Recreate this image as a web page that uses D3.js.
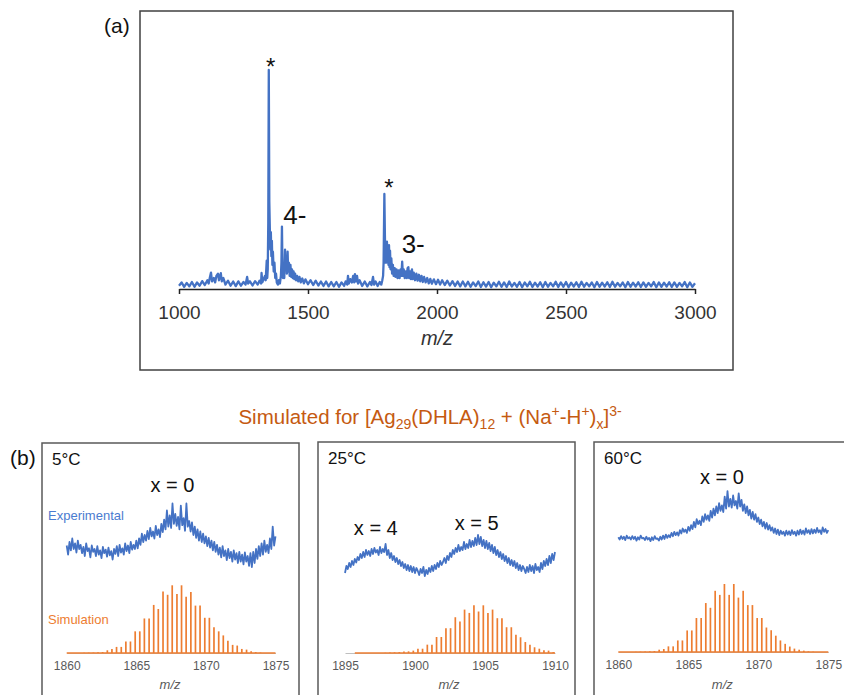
<!DOCTYPE html>
<html>
<head>
<meta charset="utf-8">
<script src="https://cdn.jsdelivr.net/npm/d3@7"></script>
<style>
  html, body { margin: 0; padding: 0; background: #fff; }
  svg { display: block; font-family: "Liberation Sans", Arial, Helvetica, sans-serif; }
</style>
</head>
<body>
<svg id="fig" width="844" height="695"></svg>
<script>
// ---------------- (a) full ESI spectrum, m/z 1000-3000 ----------------
const spectrumA = [
  [1000,1.5],[1010,3.0],[1020,1.0],[1030,2.8],[1040,1.2],[1050,3.2],[1060,1.0],[1070,3.0],[1080,1.5],[1090,3.6],
  [1100,1.8],[1110,4.0],[1115,2.5],[1120,5.5],[1124,7.5],[1128,3.5],[1135,5.0],[1140,3.0],[1145,6.0],[1151,7.0],
  [1155,4.0],[1162,7.2],[1166,3.5],[1172,5.0],[1180,2.0],[1190,3.8],[1200,1.5],[1210,3.4],[1220,1.3],[1230,3.5],
  [1240,1.5],[1250,3.2],[1258,2.0],[1264,5.5],[1268,2.5],[1275,3.5],[1285,1.6],[1295,3.6],[1305,2.0],[1312,3.8],
  [1318,2.5],[1320,7.3],[1323,3.0],[1328,4.5],[1333,6.0],[1336,4.0],[1340,13],[1342,5],[1344,9],[1346,30],
  [1348,100],[1350,40],[1352,28],[1354,18],[1356,26],[1358,15],[1360,22],[1362,11],[1364,17],[1367,8],
  [1370,12],[1373,5],[1376,7],[1379,3],[1383,2],[1387,4],[1391,2.5],[1395,6],[1397,12],[1399,28.5],
  [1401,10],[1403,5],[1406,9],[1408,5],[1411,18],[1413,9],[1416,14],[1418,7],[1421,17],[1423,8],
  [1426,12],[1429,6],[1432,11],[1435,5.5],[1438,9],[1441,5],[1444,8],[1447,4.5],[1450,7],[1454,4],
  [1458,6],[1462,3.5],[1467,5.5],[1472,3],[1478,4.8],[1484,2.6],[1490,4.4],[1500,2.2],[1510,4.0],[1520,1.8],
  [1530,3.8],[1540,1.6],[1550,3.4],[1560,1.4],[1570,3.4],[1580,1.2],[1590,3.2],[1600,1.2],[1610,3.2],[1620,1.0],
  [1630,3.0],[1640,1.4],[1646,3.5],[1652,2.0],[1655,6.0],[1658,2.5],[1664,4.5],[1670,3.0],[1675,6.0],[1679,3.0],
  [1682,6.8],[1686,3.5],[1690,6.0],[1694,2.5],[1700,4.0],[1710,1.4],[1720,3.4],[1730,1.2],[1740,3.2],[1746,1.8],
  [1752,5.5],[1756,2.0],[1762,3.4],[1770,1.4],[1778,3.2],[1784,2.0],[1788,4.0],[1791,6],[1793,12],[1796,43.4],
  [1798,25],[1800,12],[1802,20],[1804,12],[1806,21.6],[1808,13],[1810,19],[1812,11],[1814,20],[1816,10],
  [1818,17.5],[1820,9],[1823,14],[1826,7],[1829,11],[1832,6],[1836,9.5],[1839,5.5],[1843,9],[1847,5],
  [1851,8.5],[1855,5],[1859,9],[1862,6],[1865,12.5],[1868,6],[1871,9],[1875,5],[1879,8],[1883,5],
  [1886,9.5],[1889,10],[1892,5],[1896,8],[1899,4.5],[1903,9],[1906,4.5],[1910,7.5],[1915,4],[1920,7],
  [1925,3.8],[1930,6.5],[1935,3.5],[1940,6],[1945,3.2],[1950,5.5],[1956,3],[1962,5],[1968,2.6],[1974,4.6],
  [1980,2.4],[1988,4.4],[1996,2.2],[2004,4.2],[2012,2.0],[2020,4.0],[2030,1.8],[2040,3.8],[2050,1.6],[2060,3.6],
  [2070,1.4],[2080,3.4],[2090,1.2],[2100,3.4],[2110,1.2],[2120,3.3],[2130,1.0],[2140,3.0],[2150,1.3],[2160,3.4],
  [2170,0.9],[2180,3.1],[2190,1.1],[2200,3.2],[2210,0.8],[2220,2.9],[2230,1.2],[2240,3.3],[2250,1.0],[2260,3.0],
  [2270,0.9],[2280,3.4],[2290,1.1],[2300,2.8],[2310,1.0],[2320,3.2],[2330,0.8],[2340,3.0],[2350,1.2],[2360,3.3],
  [2370,0.9],[2380,2.9],[2390,1.1],[2400,3.1],[2410,0.8],[2420,3.2],[2430,1.0],[2440,2.8],[2450,1.2],[2460,3.3],
  [2470,0.9],[2480,3.0],[2490,1.0],[2500,3.2],[2510,0.8],[2520,2.9],[2530,1.1],[2540,3.1],[2550,0.9],[2560,3.3],
  [2570,1.0],[2580,2.8],[2590,1.2],[2600,3.0],[2610,0.8],[2620,3.2],[2630,1.0],[2640,2.9],[2650,1.1],[2660,3.1],
  [2670,0.9],[2680,3.3],[2690,1.0],[2700,2.8],[2710,1.2],[2720,3.0],[2730,0.8],[2740,3.2],[2750,1.0],[2760,2.9],
  [2770,1.1],[2780,3.1],[2790,0.9],[2800,3.0],[2810,1.0],[2820,2.8],[2830,1.2],[2840,3.2],[2850,0.8],[2860,3.0],
  [2870,1.0],[2880,2.9],[2890,1.1],[2900,3.1],[2910,0.9],[2920,3.0],[2930,1.0],[2940,2.8],[2950,1.2],[2960,3.2],
  [2970,0.8],[2980,3.0],[2990,1.0],[3000,2.6]
];
const ticksA = [1000, 1500, 2000, 2500, 3000];
// peak annotations: text, anchor m/z, anchor intensity, anchor side
const notesA = [
  { text: "*",  mz: 1355, at: 97.8, anchor: "middle", size: 24 },
  { text: "*",  mz: 1814, at: 42.3, anchor: "middle", size: 24 },
  { text: "4-", mz: 1404, at: 29.7, anchor: "start",  size: 26 },
  { text: "3-", mz: 1863, at: 16.3, anchor: "start",  size: 26 }
];

// ---------------- (b) zoomed isotope envelopes ----------------
// experimental traces sampled every 0.1 m/z from the panel's first m/z
const exp5C = [
  35,22,40,28,45,30,38,25,42,30, 36,24,33,20,38,27,31,18,35,26,
  30,20,34,22,28,17,33,24,29,19, 32,21,27,15,30,23,34,20,36,25,
  31,22,38,27,35,24,40,29,36,30, 42,31,45,36,52,40,50,42,56,44,
  60,48,55,45,63,50,58,47,66,54, 72,58,85,62,78,60,95,66,80,63,
  76,58,92,64,74,56,95,62,70,55, 68,50,62,46,58,42,55,40,52,38,
  48,34,46,32,42,28,40,26,36,22, 32,18,34,20,28,14,30,17,26,12,
  28,15,24,10,26,12,22,8,25,12,  20,6,24,4,26,10,30,16,34,20,
  38,22,42,26,36,24,45,30,62,35,48
];
const exp25C = [
  14,28,22,34,26,38,30,42,35,46, 40,52,44,56,46,60,50,58,48,62,
  52,64,55,60,50,66,54,62,56,72, 50,60,44,54,40,48,36,44,32,40,
  28,36,24,32,20,30,18,28,16,26, 14,24,18,10,22,14,26,8,20,12,
  24,16,28,18,30,22,34,26,38,30, 36,44,34,48,40,54,46,60,52,64,
  56,70,58,66,60,76,62,72,64,80, 66,78,68,84,70,90,72,86,68,80,
  64,78,62,74,58,70,54,66,50,60, 46,56,42,52,38,48,34,44,30,40,
  28,38,24,34,20,30,18,28,22,14, 26,16,30,18,28,14,32,20,26,16,
  34,22,38,28,42,30,48,34,52,40,56
];
const exp60C = [
  14,10,16,11,15,9,17,12,14,10,  16,11,15,8,14,10,17,12,13,9,
  15,10,13,7,14,9,16,11,12,8,    15,10,17,11,19,13,18,14,22,16,
  24,18,23,17,27,21,30,24,28,22, 33,26,36,29,42,32,47,38,44,36,
  52,42,56,46,54,44,62,50,66,54, 70,58,76,62,72,60,88,66,98,70,
  84,68,90,72,80,66,94,70,82,62, 74,58,70,54,64,48,60,46,56,42,
  50,38,46,34,42,30,40,28,36,26, 32,22,30,20,28,18,26,20,24,17,
  26,19,25,18,27,20,24,17,26,19, 28,20,26,19,30,22,27,20,29,21,
  28,22,31,23,27,20,32,24,29,22,27
];
// simulated isotope sticks (relative abundance, %)
const simX0Mz = [
  1861.25,1861.58,1861.92,1862.25,1862.58,1862.92,1863.25,1863.58,1863.92,1864.25,
  1864.58,1864.92,1865.25,1865.58,1865.92,1866.25,1866.58,1866.92,1867.25,1867.58,
  1867.92,1868.25,1868.58,1868.92,1869.25,1869.58,1869.92,1870.25,1870.58,1870.92,
  1871.25,1871.58,1871.92,1872.25,1872.58,1872.92,1873.25,1873.58,1873.92
];
const sim5C = [
  0.3,0.5,0.7,1,1.5,4,6,9,9,17, 17,32,32,51,51,71,65,91,86,100,
  87,100,83,90,70,70,52,52,38,32, 26,18,12,11,6,5,2.5,1.5,0.7
];
const sim60C = [
  0.3,0.5,0.7,1,1.5,3.4,4.4,8.3,8.3,17, 17,31.7,31.7,50,50,72,65,90,84,100,
  84,100,80,90,69,69,50,50,36,32, 24,17,12,8,5,3.4,2,1,0.5
];
const simX5Mz = [
  1897.88,1898.21,1898.54,1898.88,1899.21,1899.54,1899.88,1900.21,1900.54,1900.88,
  1901.21,1901.54,1901.88,1902.21,1902.54,1902.88,1903.21,1903.54,1903.88,1904.21,
  1904.54,1904.88,1905.21,1905.54,1905.88,1906.21,1906.54,1906.88,1907.21,1907.54,
  1907.88,1908.21,1908.54,1908.88,1909.21,1909.54,1909.88
];
const sim25C = [
  0.5,1,1.5,2,3,3.5,5,9,9,17.5, 17.5,33.5,33.5,52,52,75,66,91,84,100,
  87,100,84,91,73,73,54,54,38,33, 23,17.5,12,9,5.6,5,2
];
const ticks5C  = [1860, 1865, 1870, 1875];
const ticks25C = [1895, 1900, 1905, 1910];
const ticks60C = [1860, 1865, 1870, 1875];

// ---------------- styles ----------------
const BLUE = "#4472C4", ORANGE = "#ED7D31", TITLE_ORANGE = "#C55A11";

const svg = d3.select("#fig");

// ===== panel (a) =====
svg.append("rect").attr("x", 140).attr("y", 11).attr("width", 593).attr("height", 359)
  .attr("fill", "none").attr("stroke", "#404040").attr("stroke-width", 1.5);
svg.append("text").attr("x", 104).attr("y", 33).attr("font-size", 21).attr("fill", "#111").text("(a)");

const xA = d3.scaleLinear().domain([1000, 3000]).range([179, 695]);
const yA = d3.scaleLinear().domain([0, 100]).range([289, 70]);

const axA = svg.append("g").attr("transform", "translate(0,289)")
  .call(d3.axisBottom(xA).tickValues(ticksA).tickSize(5).tickPadding(12).tickSizeOuter(0).tickFormat(d3.format("d")));
axA.select(".domain").attr("stroke", "#222").attr("stroke-width", 1.5);
axA.selectAll(".tick line").attr("stroke", "#222").attr("stroke-width", 1.5);
axA.selectAll(".tick text").attr("font-size", 19).attr("fill", "#333")
  .attr("font-family", "'Liberation Sans', Arial, sans-serif");
svg.append("text").attr("x", 437).attr("y", 345).attr("text-anchor", "middle")
  .attr("font-size", 20).attr("font-style", "italic").attr("fill", "#333").text("m/z");

svg.append("path").datum(spectrumA)
  .attr("fill", "none").attr("stroke", BLUE).attr("stroke-width", 2.3).attr("stroke-linejoin", "round")
  .attr("d", d3.line().x(d => xA(d[0])).y(d => yA(d[1])));

svg.selectAll("text.noteA").data(notesA).join("text").attr("class", "noteA")
  .attr("x", d => xA(d.mz)).attr("y", d => yA(d.at))
  .attr("text-anchor", d => d.anchor).attr("font-size", d => d.size).attr("fill", "#111")
  .text(d => d.text);

// ===== title of (b) =====
const title = svg.append("text").attr("x", 430).attr("y", 424).attr("text-anchor", "middle")
  .attr("font-size", 20.5).attr("fill", TITLE_ORANGE);
[
  ["Simulated for [Ag", 0], ["29", 1], ["(DHLA)", 0], ["12", 1], [" + (Na", 0], ["+", -1],
  ["-H", 0], ["+", -1], [")", 0], ["x", 1], ["]", 0], ["3-", -1]
].reduce((prev, [s, k]) => {
  const shift = k === 1 ? 5 : k === -1 ? -8 : 0;
  title.append("tspan").attr("dy", shift - prev).attr("font-size", k ? 14 : 20.5).text(s);
  return shift;
}, 0);

svg.append("text").attr("x", 10).attr("y", 465).attr("font-size", 21).attr("fill", "#111").text("(b)");

// ===== panels of (b) =====
const panels = [
  { frameX: 42,  frameY: 443, xDom: [1860, 1875], xRange: [66.7, 275.5], ticks: ticks5C,
    exp: exp5C, expStart: 1860, expY: [570, 500], simMz: simX0Mz, sim: sim5C, simBase: 653, simTop: 585.3,
    simLine: [1860, 1875], temp: "5\u00B0C",
    labels: [{ t: "x = 0", mz: 1867.6, y: 492 }], showLegend: true },
  { frameX: 318, frameY: 442, xDom: [1895, 1910], xRange: [345, 555], ticks: ticks25C,
    exp: exp25C, expStart: 1895, expY: [580, 530], simMz: simX5Mz, sim: sim25C, simBase: 653, simTop: 605.3,
    simLine: [1895.7, 1910], temp: "25\u00B0C",
    labels: [{ t: "x = 4", mz: 1897.2, y: 535 }, { t: "x = 5", mz: 1904.4, y: 530 }], showLegend: false },
  { frameX: 594, frameY: 442, xDom: [1860, 1875], xRange: [618.3, 828.3], ticks: ticks60C,
    exp: exp60C, expStart: 1860, expY: [545, 490], simMz: simX0Mz, sim: sim60C, simBase: 652, simTop: 584,
    simLine: [1860, 1875], temp: "60\u00B0C",
    labels: [{ t: "x = 0", mz: 1867.4, y: 484 }], showLegend: false }
];

panels.forEach(p => {
  const g = svg.append("g");
  g.append("rect").attr("x", p.frameX).attr("y", p.frameY).attr("width", 257).attr("height", 300)
    .attr("fill", "none").attr("stroke", "#595959").attr("stroke-width", 1.5);
  g.append("text").attr("x", p.frameX + 10).attr("y", p.frameY + 22).attr("font-size", 17)
    .attr("fill", "#111").text(p.temp);

  const x = d3.scaleLinear().domain(p.xDom).range(p.xRange);
  const yE = d3.scaleLinear().domain([0, 100]).range(p.expY);
  const yS = d3.scaleLinear().domain([0, 100]).range([p.simBase, p.simTop]);

  // m/z axis
  const ax = g.append("g").attr("transform", `translate(0,${p.simBase})`)
    .call(d3.axisBottom(x).tickValues(p.ticks).tickSize(0).tickPadding(8).tickFormat(d3.format("d")));
  ax.select(".domain").attr("stroke", "#bfbfbf").attr("stroke-width", 1);
  ax.selectAll(".tick text").attr("font-size", 12).attr("fill", "#595959")
    .attr("font-family", "'Liberation Sans', Arial, sans-serif");
  g.append("text").attr("x", (p.xRange[0] + p.xRange[1]) / 2 - 1).attr("y", 689).attr("text-anchor", "middle")
    .attr("font-size", 13).attr("font-style", "italic").attr("fill", "#595959").text("m/z");

  // simulated sticks
  g.append("line").attr("x1", x(p.simLine[0])).attr("x2", x(p.simLine[1]))
    .attr("y1", p.simBase).attr("y2", p.simBase).attr("stroke", ORANGE).attr("stroke-width", 1.5);
  g.selectAll("line.stick").data(p.simMz.map((m, i) => [m, p.sim[i]])).join("line").attr("class", "stick")
    .attr("x1", d => x(d[0])).attr("x2", d => x(d[0]))
    .attr("y1", p.simBase).attr("y2", d => yS(d[1]))
    .attr("stroke", ORANGE).attr("stroke-width", 1.7);

  // experimental trace
  g.append("path").datum(p.exp)
    .attr("fill", "none").attr("stroke", BLUE).attr("stroke-width", 1.8).attr("stroke-linejoin", "round")
    .attr("d", d3.line().x((d, i) => x(p.expStart + i * 0.1)).y(d => yE(d)));

  p.labels.forEach(l => {
    g.append("text").attr("x", x(l.mz)).attr("y", l.y).attr("text-anchor", "middle")
      .attr("font-size", 20).attr("fill", "#111").text(l.t);
  });

  if (p.showLegend) {
    g.append("text").attr("x", 48).attr("y", 520).attr("font-size", 13).attr("fill", "#4a7bd0").text("Experimental");
    g.append("text").attr("x", 48).attr("y", 624).attr("font-size", 13).attr("fill", ORANGE).text("Simulation");
  }
});
</script>
</body>
</html>
